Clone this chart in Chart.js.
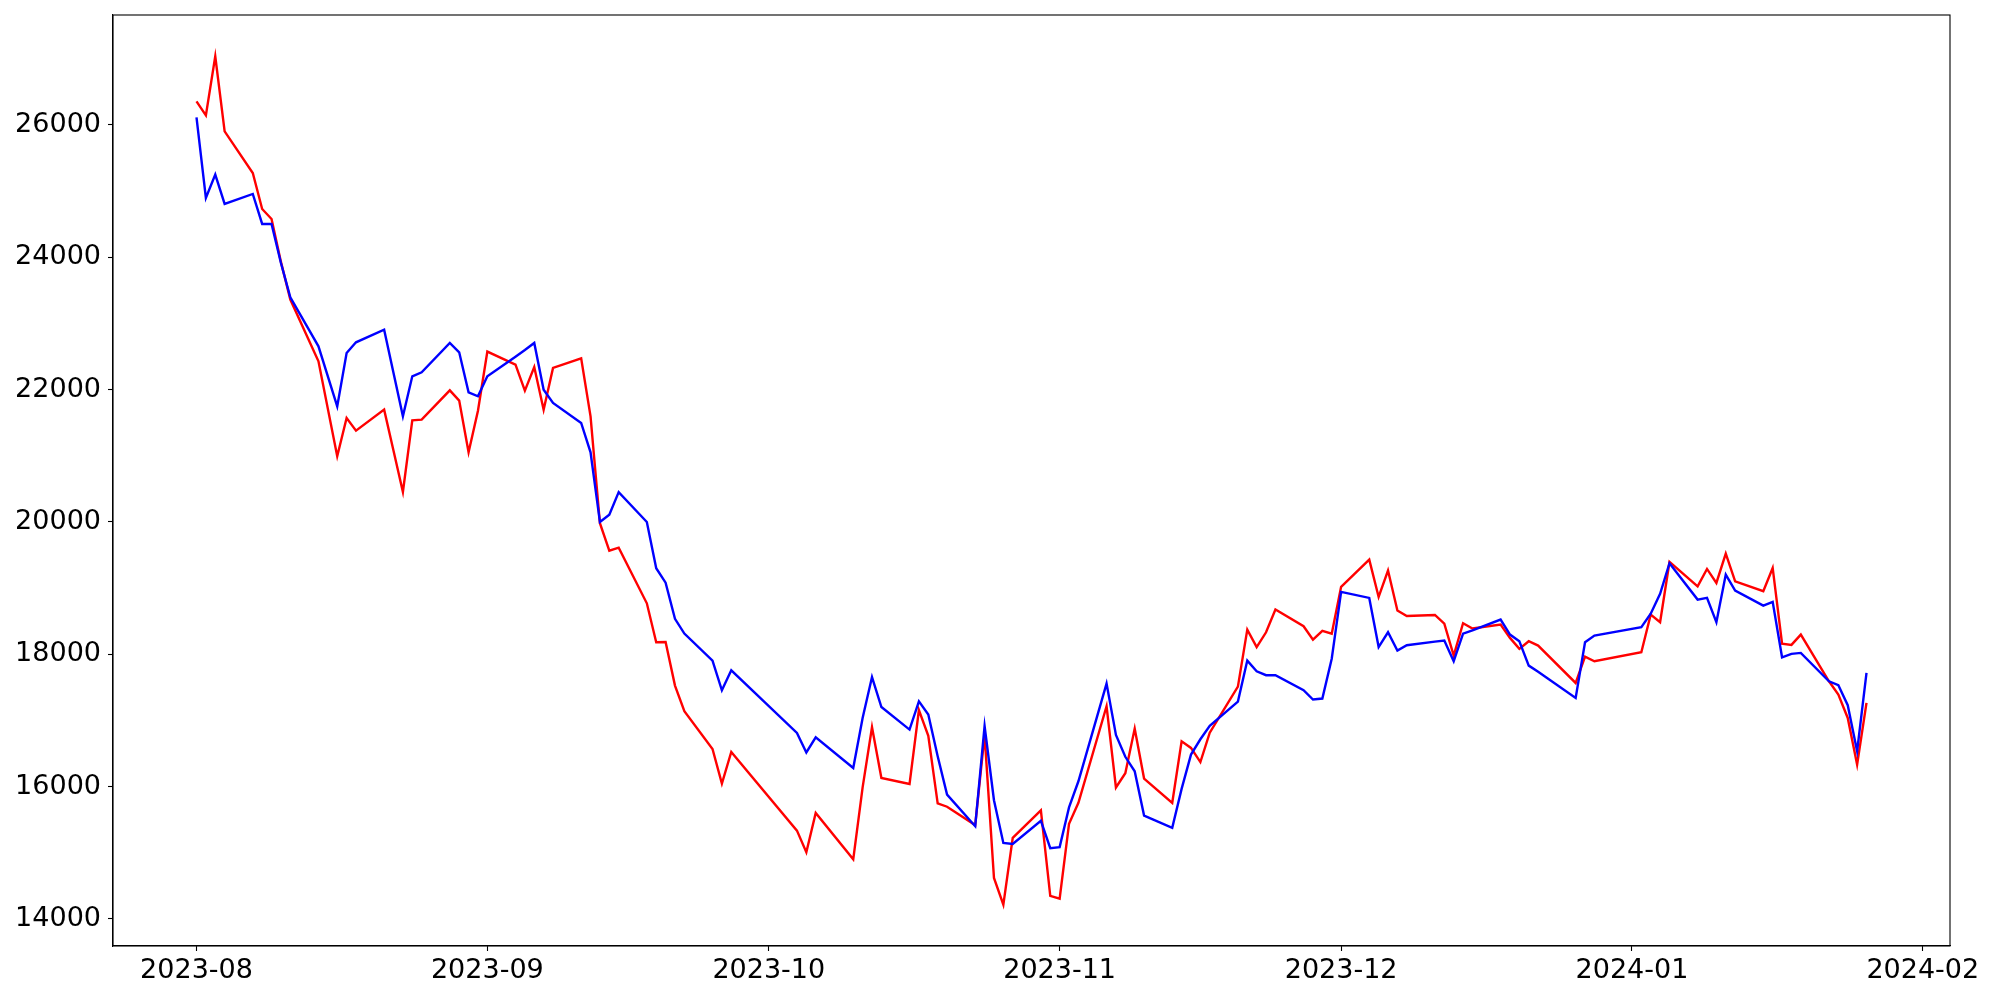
<!DOCTYPE html>
<html>
<head>
<meta charset="utf-8">
<script src="https://cdn.jsdelivr.net/npm/chart.js@4"></script>
<style>
  body { margin: 0; background: #fff; }
  #wrap { width: 2000px; height: 1000px; }
</style>
</head>
<body>
<div id="wrap"><canvas id="grafico" width="2000" height="1000"></canvas></div>
<script>
// trading days (weekdays minus market holidays)
const dates = [
    '2023-08-01', '2023-08-02', '2023-08-03', '2023-08-04', '2023-08-07', '2023-08-08', '2023-08-09', '2023-08-10', '2023-08-11',
    '2023-08-14', '2023-08-16', '2023-08-17', '2023-08-18', '2023-08-21', '2023-08-22', '2023-08-23', '2023-08-24', '2023-08-25',
    '2023-08-28', '2023-08-29', '2023-08-30', '2023-08-31', '2023-09-01', '2023-09-04', '2023-09-05', '2023-09-06', '2023-09-07',
    '2023-09-08', '2023-09-11', '2023-09-12', '2023-09-13', '2023-09-14', '2023-09-15', '2023-09-18', '2023-09-19', '2023-09-20',
    '2023-09-21', '2023-09-22', '2023-09-25', '2023-09-26', '2023-09-27', '2023-10-04', '2023-10-05', '2023-10-06', '2023-10-10',
    '2023-10-11', '2023-10-12', '2023-10-13', '2023-10-16', '2023-10-17', '2023-10-18', '2023-10-19', '2023-10-20', '2023-10-23',
    '2023-10-24', '2023-10-25', '2023-10-26', '2023-10-27', '2023-10-30', '2023-10-31', '2023-11-01', '2023-11-02', '2023-11-03',
    '2023-11-06', '2023-11-07', '2023-11-08', '2023-11-09', '2023-11-10', '2023-11-13', '2023-11-14', '2023-11-15', '2023-11-16',
    '2023-11-17', '2023-11-20', '2023-11-21', '2023-11-22', '2023-11-23', '2023-11-24', '2023-11-27', '2023-11-28', '2023-11-29',
    '2023-11-30', '2023-12-01', '2023-12-04', '2023-12-05', '2023-12-06', '2023-12-07', '2023-12-08', '2023-12-11', '2023-12-12',
    '2023-12-13', '2023-12-14', '2023-12-15', '2023-12-18', '2023-12-19', '2023-12-20', '2023-12-21', '2023-12-22', '2023-12-26',
    '2023-12-27', '2023-12-28', '2024-01-02', '2024-01-03', '2024-01-04', '2024-01-05', '2024-01-08', '2024-01-09', '2024-01-10',
    '2024-01-11', '2024-01-12', '2024-01-15', '2024-01-16', '2024-01-17', '2024-01-18', '2024-01-19', '2024-01-22', '2024-01-23',
    '2024-01-24', '2024-01-25', '2024-01-26',
];

// red line
const seriesA = [
    26357, 26145, 27037, 25904, 25274, 24730, 24579, 23930, 23360,
    22428, 20992, 21571, 21380, 21697, 21075, 20452, 21536, 21546,
    21989, 21833, 21052, 21680, 22575, 22377, 21984, 22342, 21697,
    22327, 22473, 21596, 19980, 19566, 19612, 18770, 18181, 18186,
    17526, 17138, 16569, 16045, 16523, 15334, 15006, 15601, 14900,
    15988, 16897, 16130, 16038, 17156, 16768, 15745, 15695, 15418,
    16780, 14619, 14216, 15224, 15640, 14347, 14305, 15437, 15754,
    17215, 15986, 16202, 16876, 16121, 15753, 16685, 16584, 16370,
    16815, 17511, 18372, 18108, 18332, 18675, 18423, 18221, 18352,
    18310, 19018, 19430, 18866, 19266, 18662, 18579, 18594, 18463,
    17980, 18468, 18390, 18448, 18247, 18081, 18196, 18131, 17566,
    17964, 17894, 18030, 18599, 18483, 19395, 19027, 19289, 19078,
    19521, 19103, 18952, 19304, 18161, 18141, 18297, 17591, 17390,
    17037, 16332, 17264,
];

// blue line
const seriesB = [
    26115, 24896, 25249, 24806, 24957, 24504, 24504, 23914, 23395,
    22654, 21747, 22553, 22715, 22906, 22250, 21596, 22201, 22262,
    22705, 22563, 21959, 21899, 22201, 22498, 22599, 22705, 21999,
    21798, 21496, 21052, 19999, 20110, 20450, 19999, 19300, 19082,
    18536, 18312, 17904, 17455, 17757, 16810, 16515, 16743, 16281,
    17037, 17655, 17202, 16861, 17289, 17088, 16458, 15879, 15400,
    16915, 15793, 15148, 15133, 15483, 15070, 15085, 15684, 16080,
    17556, 16781, 16450, 16231, 15561, 15375, 15965, 16483, 16715,
    16917, 17285, 17904, 17743, 17683, 17683, 17456, 17315, 17330,
    17932, 18942, 18851, 18108, 18332, 18055, 18136, 18191, 18206,
    17894, 18310, 18360, 18524, 18297, 18196, 17828, 17735, 17340,
    18181, 18282, 18408, 18612, 18914, 19375, 18826, 18851, 18483,
    19204, 18962, 18735, 18791, 17954, 18005, 18020, 17591, 17531,
    17229, 16534, 17717,
];

const monthTicks = ['2023-08-01', '2023-09-01', '2023-10-01', '2023-11-01', '2023-12-01', '2024-01-01', '2024-02-01'];
const monthLabels = ['2023-08', '2023-09', '2023-10', '2023-11', '2023-12', '2024-01', '2024-02'];
const yTicks = [14000, 16000, 18000, 20000, 22000, 24000, 26000];

// day number counted from the first date
const t0 = Date.UTC(2023, 7, 1);
function dayNum(s) {
    const p = s.split('-');
    return (Date.UTC(+p[0], +p[1] - 1, +p[2]) - t0) / 86400000;
}

const xs = dates.map(dayNum);
const monthPos = monthTicks.map(dayNum);

const pontosA = xs.map((x, i) => ({ x: x, y: seriesA[i] }));
const pontosB = xs.map((x, i) => ({ x: x, y: seriesB[i] }));

const moldura = {
    id: 'moldura',
    afterDatasetsDraw(chart) {
        const a = chart.chartArea;
        const ctx = chart.ctx;
        ctx.save();
        ctx.strokeStyle = '#000';
        ctx.lineWidth = 1.1;
        ctx.strokeRect(a.left, a.top, a.right - a.left, a.bottom - a.top);
        ctx.restore();
    }
};

const data = {
    datasets: [{
        label: 'A',
        data: pontosA,
        borderColor: '#ff0000',
        backgroundColor: '#ff0000',
        borderWidth: 2.4,
        order: 2,
    },
    {
        label: 'B',
        data: pontosB,
        borderColor: '#0000ff',
        backgroundColor: '#0000ff',
        borderWidth: 2.4,
        order: 1,
    }]
};

const config = {
    type: 'line',
    data: data,
    options: {
        responsive: false,
        animation: false,
        events: [],
        elements: { point: { radius: 0 }, line: { tension: 0 } },
        layout: { padding: { left: 0, right: 50, top: 15, bottom: 0 } },
        plugins: { legend: { display: false }, tooltip: { enabled: false } },
        scales: {
            x: {
                type: 'linear',
                min: -8.9,
                max: 186.9,
                afterBuildTicks: (scale) => { scale.ticks = monthPos.map(v => ({ value: v })); },
                afterFit: (scale) => { scale.height = 54; scale.paddingLeft = 0; scale.paddingRight = 0; },
                grid: { drawOnChartArea: false, drawTicks: true, tickLength: 5, tickWidth: 1.1, tickColor: '#000' },
                border: { display: true, color: '#000', width: 1.1 },
                ticks: {
                    color: '#000',
                    padding: 4,
                    maxRotation: 0,
                    autoSkip: false,
                    font: { family: 'DejaVu Sans', size: 27 },
                    callback: (v) => {
                        const k = monthPos.indexOf(v);
                        return k >= 0 ? monthLabels[k] : '';
                    }
                }
            },
            y: {
                min: 13590,
                max: 27662,
                afterBuildTicks: (scale) => { scale.ticks = yTicks.map(v => ({ value: v })); },
                afterFit: (scale) => { scale.width = 113; scale.paddingTop = 0; scale.paddingBottom = 0; },
                grid: { drawOnChartArea: false, drawTicks: true, tickLength: 5, tickWidth: 1.1, tickColor: '#000' },
                border: { display: true, color: '#000', width: 1.1 },
                ticks: {
                    color: '#000',
                    padding: 7,
                    autoSkip: false,
                    font: { family: 'DejaVu Sans', size: 27 },
                    callback: (v) => String(v)
                }
            }
        }
    },
    plugins: [moldura]
};

const resultado = new Chart(
    document.getElementById('grafico'),
    config
);
</script>
</body>
</html>
